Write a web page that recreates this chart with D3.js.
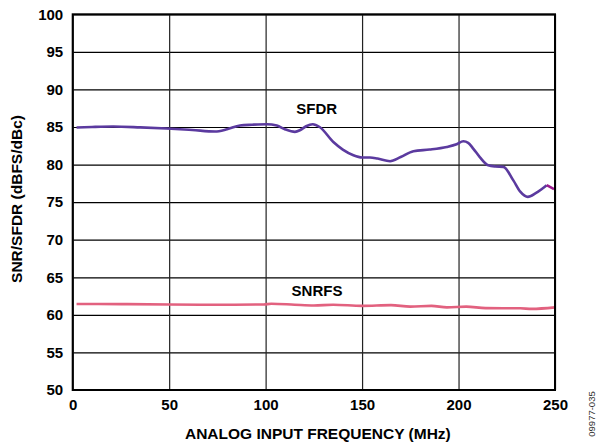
<!DOCTYPE html>
<html>
<head>
<meta charset="utf-8">
<script src="https://cdn.jsdelivr.net/npm/d3@7"></script>
<style>
  body { margin: 0; background: #fff; }
  text { font-family: "Liberation Sans", Arial, sans-serif; }
</style>
</head>
<body>
<div id="chart"></div>
<script>
// SNR/SFDR vs analog input frequency

const xTicks = [0, 50, 100, 150, 200, 250];
const yTicks = [50, 55, 60, 65, 70, 75, 80, 85, 90, 95, 100];

const sfdrFreq = [2, 10, 21, 35, 48.7, 62, 73.8, 80, 86.7, 93, 100.6, 105.8, 110, 115.2, 118, 121, 124.4, 128,
    135.1, 140, 145.5, 150, 154.1, 158, 164.5, 170, 176.6, 185, 193.9, 199, 202.5, 205, 207.7, 211, 215.4,
    219, 223.2, 228.4, 232, 235.9, 240, 245.7];
const sfdrValues = [84.93, 85.0, 85.06, 84.95, 84.8, 84.6, 84.4, 84.7, 85.2, 85.3, 85.37, 85.2, 84.7, 84.35, 84.6, 85.1, 85.37, 85.0,
    83.0, 82.0, 81.25, 80.95, 80.94, 80.8, 80.45, 81.0, 81.78, 82.0, 82.35, 82.7, 83.1, 82.9, 82.1, 81.0, 79.9,
    79.75, 79.7, 77.9, 76.4, 75.7, 76.2, 77.26];
// last short segment drawn in magenta
const sfdrTailFreq = [245.7, 249.5];
const sfdrTailValues = [77.26, 76.73];

const snrFreq = [2, 25, 50, 75, 99, 103, 115, 125, 135, 150, 165, 175, 186, 194, 204, 214, 232, 238, 250];
const snrValues = [61.44, 61.43, 61.38, 61.35, 61.38, 61.48, 61.35, 61.25, 61.35, 61.2, 61.3, 61.1, 61.2, 61.0, 61.1, 60.9, 60.87, 60.8, 61.0];

const width = 600, height = 447;
const margin = { top: 14.3, right: 45, bottom: 57, left: 72.7 };
const innerW = width - margin.left - margin.right;
const innerH = height - margin.top - margin.bottom;

const svg = d3.select('#chart').append('svg')
    .attr('width', width)
    .attr('height', height);

const g = svg.append('g')
    .attr('transform', `translate(${margin.left},${margin.top})`);

const x = d3.scaleLinear().domain([0, 250]).range([0, innerW]);
const y = d3.scaleLinear().domain([50, 100]).range([innerH, 0]);

// ── Grid ──
g.append('g')
    .call(d3.axisLeft(y).tickValues(yTicks).tickSize(-innerW).tickFormat(''))
    .call(a => a.select('.domain').remove())
    .selectAll('line').attr('stroke', '#000').attr('stroke-width', 1.2);

g.append('g')
    .attr('transform', `translate(0,${innerH})`)
    .call(d3.axisBottom(x).tickValues(xTicks).tickSize(innerH).tickFormat(''))
    .attr('transform', 'translate(0,0)')
    .call(a => a.select('.domain').remove())
    .selectAll('line').attr('stroke', '#222').attr('stroke-width', 1.2);

// ── Axes labels ──
g.append('g')
    .call(d3.axisLeft(y).tickValues(yTicks).tickSize(0).tickPadding(9.5))
    .call(a => a.select('.domain').remove())
    .selectAll('text')
    .style('font-size', '15px')
    .style('font-weight', 'bold')
    .attr('fill', '#000');

g.append('g')
    .attr('transform', `translate(0,${innerH})`)
    .call(d3.axisBottom(x).tickValues(xTicks).tickSize(0).tickPadding(9))
    .call(a => a.select('.domain').remove())
    .selectAll('text')
    .style('font-size', '15px')
    .style('font-weight', 'bold')
    .attr('fill', '#000');

// ── Curves ──
const line = d3.line()
    .x(d => x(d[0]))
    .y(d => y(d[1]))
    .curve(d3.curveMonotoneX);

g.append('path')
    .datum(snrFreq.map((f, i) => [f, snrValues[i]]))
    .attr('fill', 'none')
    .attr('stroke', '#e2617f')
    .attr('stroke-width', 2.6)
    .attr('d', line);

g.append('path')
    .datum(sfdrFreq.map((f, i) => [f, sfdrValues[i]]))
    .attr('fill', 'none')
    .attr('stroke', '#5b3a9f')
    .attr('stroke-width', 2.6)
    .attr('d', line);

g.append('path')
    .datum(sfdrTailFreq.map((f, i) => [f, sfdrTailValues[i]]))
    .attr('fill', 'none')
    .attr('stroke', '#9a1a8e')
    .attr('stroke-width', 2.6)
    .attr('d', line);

// ── Border ──
g.append('rect')
    .attr('x', 0).attr('y', 0)
    .attr('width', innerW).attr('height', innerH)
    .attr('fill', 'none')
    .attr('stroke', '#000')
    .attr('stroke-width', 2);

// ── Series labels ──
g.append('text')
    .attr('x', 316.7 - margin.left)
    .attr('y', y(87.4))
    .attr('text-anchor', 'middle')
    .attr('dominant-baseline', 'central')
    .style('font-size', '15px')
    .style('font-weight', 'bold')
    .text('SFDR');

g.append('text')
    .attr('x', 317 - margin.left)
    .attr('y', y(63.2))
    .attr('text-anchor', 'middle')
    .attr('dominant-baseline', 'central')
    .style('font-size', '15px')
    .style('font-weight', 'bold')
    .text('SNRFS');

// ── Axis titles ──
svg.append('text')
    .attr('x', margin.left + innerW / 2 + 4)
    .attr('y', 433)
    .attr('text-anchor', 'middle')
    .attr('dominant-baseline', 'central')
    .style('font-size', '15.5px')
    .style('font-weight', 'bold')
    .text('ANALOG INPUT FREQUENCY (MHz)');

svg.append('text')
    .attr('transform', 'translate(16,199) rotate(-90)')
    .attr('text-anchor', 'middle')
    .attr('dominant-baseline', 'central')
    .style('font-size', '15.5px')
    .style('font-weight', 'bold')
    .text('SNR/SFDR (dBFS/dBc)');

svg.append('text')
    .attr('transform', 'translate(591,414) rotate(-90)')
    .attr('text-anchor', 'middle')
    .attr('dominant-baseline', 'central')
    .style('font-size', '9.5px')
    .style('fill', '#333')
    .text('09977-035');
</script>
</body>
</html>
